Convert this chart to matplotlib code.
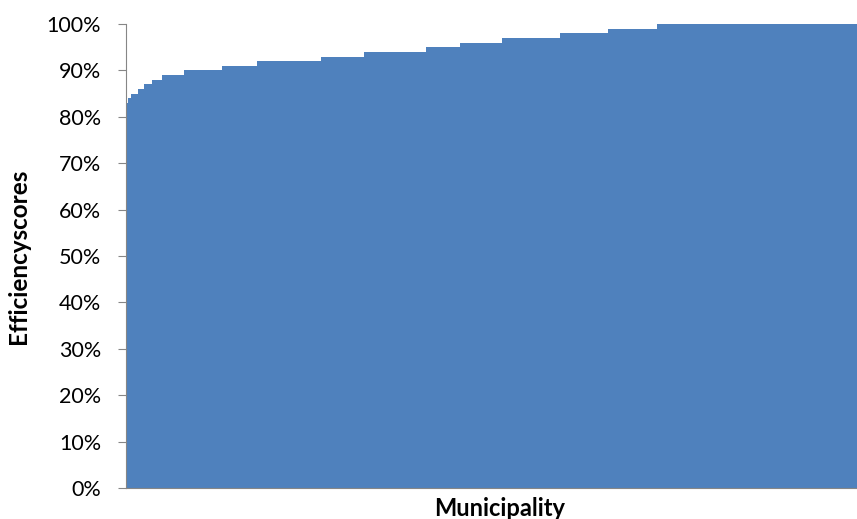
import numpy as np
import matplotlib
matplotlib.use("Agg")
import matplotlib.pyplot as plt
from matplotlib.ticker import PercentFormatter

# Efficiency score levels and number of municipalities at each level (sorted)
score_levels = [0.83, 0.84, 0.85, 0.86, 0.87, 0.88, 0.89, 0.90, 0.91,
                0.92, 0.93, 0.94, 0.95, 0.96, 0.97, 0.98, 0.99, 1.00]
counts = [1, 2, 4, 4, 5, 6, 13, 23, 21, 39, 26, 37, 21, 25, 35, 29, 30, 131]

scores = np.repeat(score_levels, counts)
municipalities = np.arange(len(scores))

plt.rcParams['font.family'] = ['Lato', 'DejaVu Sans']

fig = plt.figure(figsize=(8.57, 5.19), dpi=100)
# plot area runs a little past the right edge of the picture (cropped chart)
ax = fig.add_axes([0.147, 0.0597, 0.873, 0.894])

ax.bar(municipalities, scores, width=1.0, color='#4F81BD', linewidth=0)

ax.set_xlim(-0.5, len(scores) - 0.5)
ax.set_ylim(0, 1)
ax.set_yticks(np.arange(0, 1.01, 0.1))
ax.yaxis.set_major_formatter(PercentFormatter(1.0, decimals=0))
ax.set_xticks([])

for s in ['top', 'right']:
    ax.spines[s].set_visible(False)
ax.spines['left'].set_color('#868686')
ax.spines['bottom'].set_color('#868686')
ax.tick_params(axis='y', direction='out', length=6, color='#868686',
               labelsize=15.5, pad=12)

ax.set_xlabel('Municipality', fontsize=17, fontweight='bold', labelpad=6.5)
ax.set_ylabel('Efficiencyscores', fontsize=17.5, fontweight='bold', labelpad=12)

fig.savefig('out.png', dpi=100)
